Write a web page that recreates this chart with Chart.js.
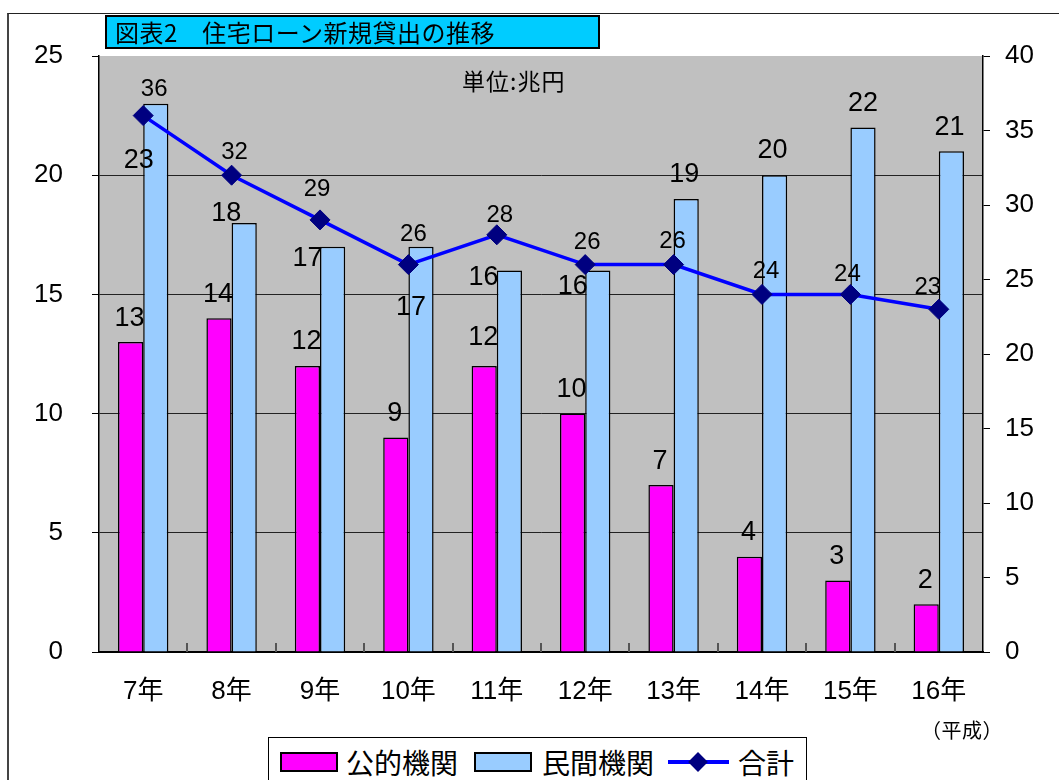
<!DOCTYPE html>
<html lang="ja">
<head>
<meta charset="utf-8">
<script src="https://cdn.jsdelivr.net/npm/chart.js@4/dist/chart.umd.min.js"></script>
<style>
  body { margin: 0; background: #fff; }
  #wrap { position: relative; width: 1059px; height: 780px; overflow: hidden; background: #fff;
          font-family: "Liberation Sans", "Noto Sans CJK JP", sans-serif; color: #000; }
  #frame { position: absolute; left: 7px; top: 13px; width: 1100px; height: 800px;
           border-left: 2px solid #444; border-top: 1px solid #222; }
  #chart { position: absolute; left: 0; top: 0; }
  #title { position: absolute; left: 105px; top: 15px; width: 495px; height: 34px; box-sizing: border-box;
           background: #00CCFF; border: 2px solid #000; font-family: "Noto Sans CJK JP", sans-serif;
           font-size: 24px; line-height: 30px; padding-left: 8px; white-space: nowrap; letter-spacing: 0.5px; }
  #unit { position: absolute; left: 462px; top: 66px; font-family: "Noto Sans CJK JP", sans-serif;
          font-size: 23px; line-height: 28px; letter-spacing: 1px; }
  #era { position: absolute; left: 921px; top: 717px; font-family: "Noto Sans CJK JP", sans-serif;
         font-size: 20px; line-height: 26px; letter-spacing: 0.5px; }
  #legend { position: absolute; left: 268px; top: 737px; width: 539px; height: 80px; box-sizing: border-box;
            border: 1px solid #000; background: #fff; }
  .sw { position: absolute; top: 14px; width: 58px; height: 20px; box-sizing: border-box; border: 2px solid #000; }
  .lt { position: absolute; top: 4px; font-family: "Noto Sans CJK JP", sans-serif; font-size: 28px; line-height: 40px; }
  #lineIcon { position: absolute; left: 399px; top: 22px; width: 61px; height: 4px; background: #0000FF; }
  #lineIcon div { position: absolute; left: 23px; top: -5px; width: 14px; height: 14px; background: #000080;
                  transform: rotate(45deg); }
</style>
</head>
<body>
<div id="wrap">
  <div id="frame"></div>
  <canvas id="chart" width="1059" height="780"></canvas>
  <div id="title">図表2　住宅ローン新規貸出の推移</div>
  <div id="unit">単位:兆円</div>
  <div id="era">（平成）</div>
  <div id="legend">
    <div class="sw" style="left:11px;background:#FF00FF"></div>
    <div class="lt" style="left:77px">公的機関</div>
    <div class="sw" style="left:205px;background:#99CCFF"></div>
    <div class="lt" style="left:273px">民間機関</div>
    <div id="lineIcon"><div></div></div>
    <div class="lt" style="left:469px">合計</div>
  </div>
</div>
<script>
// 年度（平成）
const years = ['7年', '8年', '9年', '10年', '11年', '12年', '13年', '14年', '15年', '16年'];
// 新規貸出額（兆円）
const publicLoans = [13, 14, 12, 9, 12, 10, 7, 4, 3, 2];
const privateLoans = [23, 18, 17, 17, 16, 16, 19, 20, 22, 21];
const totalLoans = [36, 32, 29, 26, 28, 26, 26, 24, 24, 23];
// 目盛り
const leftMax = 25;
const rightMax = 40;
const tickStep = 5;

// ラベルの位置ずらし [dx, dy]（棒の上端・点の中心から）
const labelNudge = [
  [[-1, -24], [-1, -24], [-1, -24], [-1, -24], [-1, -28], [-1, -24], [-1, -24], [-1, -24], [-1, -24], [-1, -24]],
  [[-17, 57], [-18, -9], [-25, 12], [-10, 61], [-26, 7], [-25, 16], [-2, -24], [-2, -25], [0, -24], [-2, -24]],
  [[11, -26], [3, -23], [-3, -31], [5, -30], [3, -19], [2, -22], [-1, -23], [4, -23], [-3, -20], [-11, -22]]
];
const labelSize = [27, 27, 24];

const numFont = '"Liberation Sans", Arial, sans-serif';

const plotBg = {
  id: 'plotBg',
  beforeDraw(chart) {
    const { ctx, chartArea: a } = chart;
    ctx.save();
    ctx.fillStyle = '#C0C0C0';
    ctx.fillRect(a.left, a.top, a.right - a.left, a.bottom - a.top);
    ctx.restore();
  },
  beforeDatasetsDraw(chart) {
    // 項目の区切りに内向きの短い目盛り
    const { ctx, chartArea: a } = chart;
    const w = (a.right - a.left) / years.length;
    ctx.save();
    ctx.strokeStyle = '#555';
    ctx.lineWidth = 2;
    for (let i = 1; i < years.length; i++) {
      const x = Math.round(a.left + i * w);
      ctx.beginPath();
      ctx.moveTo(x, a.bottom);
      ctx.lineTo(x, a.bottom - 9);
      ctx.stroke();
    }
    ctx.restore();
  }
};

const valueLabels = {
  id: 'valueLabels',
  afterDatasetsDraw(chart) {
    const ctx = chart.ctx;
    ctx.save();
    ctx.fillStyle = '#000';
    ctx.textAlign = 'center';
    ctx.textBaseline = 'middle';
    chart.data.datasets.forEach((ds, i) => {
      ctx.font = labelSize[i] + 'px ' + numFont;
      chart.getDatasetMeta(i).data.forEach((el, j) => {
        const [dx, dy] = labelNudge[i][j];
        ctx.fillText(String(ds.data[j]), el.x + dx, el.y + dy);
      });
    });
    ctx.restore();
  }
};

new Chart(document.getElementById('chart'), {
  type: 'bar',
  data: {
    labels: years,
    datasets: [
      {
        label: '公的機関',
        data: publicLoans,
        backgroundColor: '#FF00FF',
        borderColor: '#000',
        borderWidth: 1.5,
        categoryPercentage: 0.57,
        barPercentage: 1,
        yAxisID: 'y',
        order: 1
      },
      {
        label: '民間機関',
        data: privateLoans,
        backgroundColor: '#99CCFF',
        borderColor: '#000',
        borderWidth: 1.5,
        categoryPercentage: 0.57,
        barPercentage: 1,
        yAxisID: 'y',
        order: 1
      },
      {
        type: 'line',
        label: '合計',
        data: totalLoans,
        borderColor: '#0000FF',
        borderWidth: 3.5,
        pointStyle: 'rectRot',
        pointRadius: 10,
        pointBackgroundColor: '#000080',
        pointBorderColor: '#000080',
        pointBorderWidth: 1,
        tension: 0,
        yAxisID: 'y1',
        order: 0
      }
    ]
  },
  options: {
    responsive: false,
    animation: false,
    devicePixelRatio: 1,
    layout: { padding: { top: 56, left: 0, right: 0, bottom: 0 } },
    plugins: {
      legend: { display: false },
      title: { display: false },
      tooltip: { enabled: false }
    },
    scales: {
      x: {
        grid: { display: false, drawTicks: false },
        border: { color: '#000', width: 2 },
        ticks: {
          color: '#000',
          font: { family: '"Liberation Sans", "Noto Sans CJK JP", sans-serif', size: 26 },
          padding: 24,
          maxRotation: 0,
          autoSkip: false
        },
        afterFit(s) { s.height = 128; }
      },
      y: {
        position: 'left',
        min: 0,
        max: leftMax,
        ticks: { stepSize: tickStep, color: '#000', font: { family: numFont, size: 26 }, padding: 29 },
        grid: {
          color: (c) => (c.tick && c.tick.value > 0 && c.tick.value < leftMax) ? '#222' : 'rgba(0,0,0,0)',
          tickColor: '#000',
          tickLength: 7,
          lineWidth: 1
        },
        border: { color: '#000', width: 1.5 },
        afterFit(s) { s.width = 99; }
      },
      y1: {
        position: 'right',
        min: 0,
        max: rightMax,
        ticks: { stepSize: tickStep, color: '#000', font: { family: numFont, size: 26 }, padding: 15 },
        grid: { drawOnChartArea: false, tickColor: '#000', tickLength: 7 },
        border: { color: '#000', width: 1.5 },
        afterFit(s) { s.width = 76; }
      }
    }
  },
  plugins: [plotBg, valueLabels]
});
</script>
</body>
</html>
